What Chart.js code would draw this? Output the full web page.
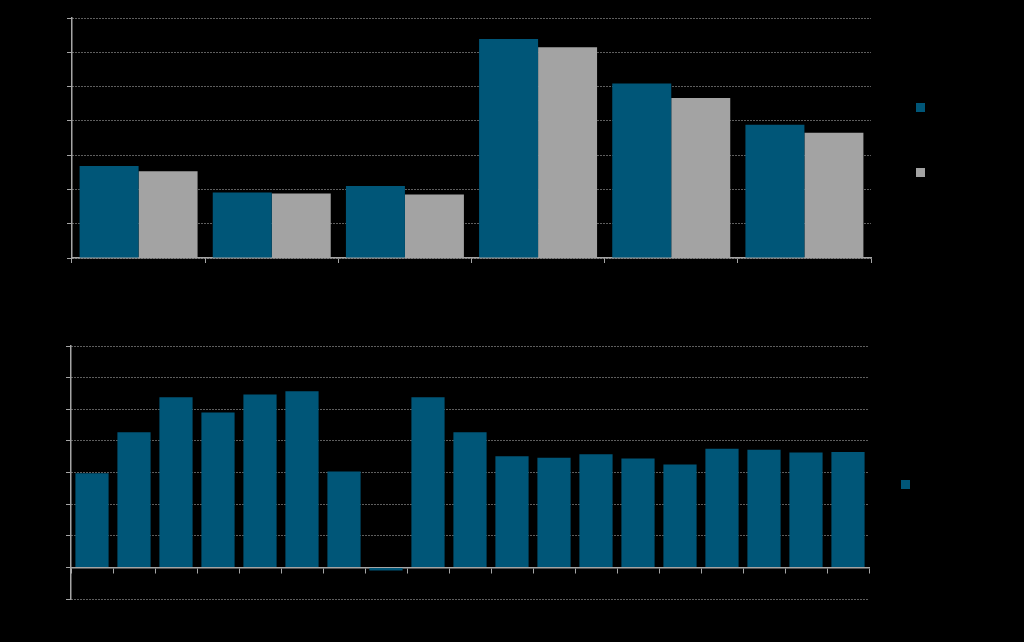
<!DOCTYPE html>
<html>
<head>
<meta charset="utf-8">
<script src="https://cdn.jsdelivr.net/npm/chart.js@4/dist/chart.umd.min.js"></script>
<style>
  body { margin: 0; background: #000; font-family: "Liberation Sans", Arial, sans-serif; }
  #wrap { position: relative; width: 1024px; height: 642px; background: #000; }
  canvas { position: absolute; left: 0; }
  .leg { position: absolute; font-size: 12px; color: #000; line-height: 9px; white-space: nowrap; }
  .leg span { display: inline-block; width: 9px; height: 9px; vertical-align: top; margin-right: 6px; }
</style>
</head>
<body>
<div id="wrap">
  <canvas id="top" width="1024" height="300" style="top:0"></canvas>
  <canvas id="bottom" width="1024" height="342" style="top:300px"></canvas>
  <div class="leg" style="left:916px;top:103px"><span style="background:#005678"></span>Series 1</div>
  <div class="leg" style="left:916px;top:168px"><span style="background:#a3a3a3"></span>Series 2</div>
  <div class="leg" style="left:901px;top:480px"><span style="background:#005678"></span>Series 1</div>
</div>
<script>
    // top chart data
    var topLabels = ['Cat 1','Cat 2','Cat 3','Cat 4','Cat 5','Cat 6'];
    var topSeries1 = [2.68, 1.91, 2.10, 6.39, 5.09, 3.89];
    var topSeries2 = [2.53, 1.88, 1.85, 6.15, 4.67, 3.65];
    var topTicks = [0,1,2,3,4,5,6,7];

    // bottom chart data
    var botLabels = ['1','2','3','4','5','6','7','8','9','10','11','12','13','14','15','16','17','18','19'];
    var botSeries = [2.98, 4.27, 5.38, 4.90, 5.47, 5.57, 3.03, -0.10, 5.38, 4.27, 3.51, 3.47, 3.58, 3.44, 3.25, 3.75, 3.72, 3.63, 3.65];
    var botTicks = [-1,0,1,2,3,4,5,6,7];

    var blue = '#005678';
    var grey = '#a3a3a3';
    var axisGrey = '#a6a6a6';
    var dotGrey = '#bdbdbd';

    function yScale(ticks, w){
        return {
            min: ticks[0],
            max: ticks[ticks.length-1],
            afterFit: function(s){ s.width = w; },
            ticks: { stepSize: 1, color: '#000', font: { size: 12 } },
            grid: { color: dotGrey, lineWidth: 1, tickColor: axisGrey, tickLength: 5 },
            border: { color: axisGrey, width: 1.5, dash: [1, 2] }
        };
    }

    function topchart(){
        let ctx = document.getElementById('top');
        let config = {
            type: 'bar',
            data: {
                labels: topLabels,
                datasets: [
                    { label: 'Series 1', data: topSeries1, backgroundColor: blue },
                    { label: 'Series 2', data: topSeries2, backgroundColor: grey }
                ]
            },
            options: {
                responsive: false,
                animation: false,
                devicePixelRatio: 1,
                layout: { padding: { left: 0, right: 153, top: 18, bottom: 0 } },
                datasets: { bar: { categoryPercentage: 0.886, barPercentage: 1 } },
                plugins: { legend: { display: false }, tooltip: { enabled: false } },
                scales: {
                    x: {
                        afterFit: function(s){ s.height = 42; },
                        ticks: { color: '#000', font: { size: 12 } },
                        grid: { drawOnChartArea: false, offset: true, tickColor: axisGrey, tickLength: 5 },
                        border: { color: axisGrey, width: 1.5 }
                    },
                    y: yScale(topTicks, 72)
                }
            }
        };
        new Chart(ctx, config);
    }

    function bottomchart(){
        let ctx = document.getElementById('bottom');
        let config = {
            type: 'bar',
            data: {
                labels: botLabels,
                datasets: [
                    { label: 'Series 1', data: botSeries, backgroundColor: blue }
                ]
            },
            options: {
                responsive: false,
                animation: false,
                devicePixelRatio: 1,
                layout: { padding: { left: 0, right: 155, top: 46, bottom: 43 } },
                datasets: { bar: { categoryPercentage: 0.79, barPercentage: 1 } },
                plugins: { legend: { display: false }, tooltip: { enabled: false } },
                scales: {
                    x: {
                        position: { y: 0 },
                        ticks: { color: '#000', font: { size: 12 } },
                        grid: { drawOnChartArea: false, offset: true, tickColor: axisGrey, tickLength: 5 },
                        border: { color: axisGrey, width: 1.5 }
                    },
                    y: yScale(botTicks, 71)
                }
            }
        };
        new Chart(ctx, config);
    }

    topchart();
    bottomchart();
</script>
</body>
</html>
